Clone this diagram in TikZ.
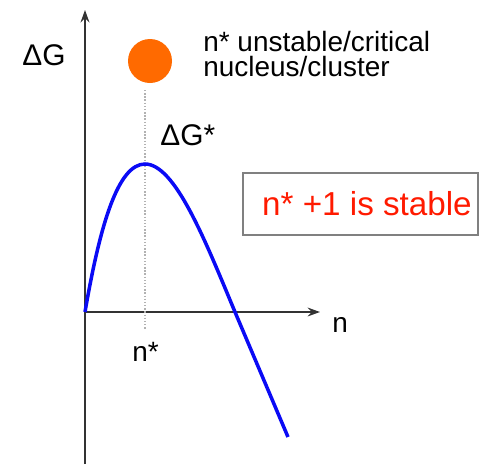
\documentclass[tikz,border=0pt]{standalone}
\usepackage{fontspec}
\setmainfont{Liberation Sans}
\usetikzlibrary{arrows.meta}
\definecolor{CurveBlue}{HTML}{0A0AF5}
\definecolor{NucOrange}{HTML}{FF6A00}
\definecolor{AxisGray}{HTML}{333333}
\definecolor{StableRed}{HTML}{FF1A00}

\begin{document}
\begin{tikzpicture}[x=0.02cm,y=-0.02cm,
  every node/.style={inner sep=0pt,font=\fontsize{15.9}{14.2}\selectfont},
  axis/.style={AxisGray,line width=1.1pt,-{Stealth[length=7pt,width=5pt]}},
  guide/.style={gray!60,line width=0.8pt,densely dotted},
  label/.style={anchor=base west}]
\useasboundingbox (0,0) rectangle (484,464);
% axes
\coordinate (origin) at (85,312);
\coordinate (ybot) at (85,464);
\coordinate (ytop) at (85,10);
\coordinate (xend) at (320,312);
\draw[axis] (ybot) -- (ytop);
\draw[axis] (origin) -- (xend);
\node[label,font=\fontsize{17}{17}\selectfont] (dG) at (22,65) {ΔG};
\node[label] (nlab) at (332,332) {n};
\node[label] (nstar) at (132,361) {n*};
% critical nucleus
\node[circle,fill=NucOrange,minimum size=44*0.02cm] (nucleus) at (150,61) {};
\node[anchor=north west,align=left] (crit) at (203,31)
  {n* unstable/critical\\nucleus/cluster};
\coordinate (dottop) at (145,90);
\coordinate (dotbot) at (145,330);
\draw[guide] (dottop) -- (dotbot);
\node[label,font=\fontsize{17}{17}\selectfont] (dGstar) at (160,145) {ΔG*};
% free energy curve
\draw[CurveBlue,line width=2pt]
  (origin) .. controls (100,225) and (118,164) .. (145,164)
  .. controls (175,164) and (205,240) .. (235,312) -- (288,437);
% stability box
\node[draw=gray,line width=0.8pt,minimum width=235*0.02cm,minimum height=62*0.02cm,
  text=StableRed,font=\fontsize{18.9}{18.9}\selectfont] (stable) at (360.5,204)
  {\hspace*{0.26cm}n* +1 is stable};
\end{tikzpicture}
\end{document}
